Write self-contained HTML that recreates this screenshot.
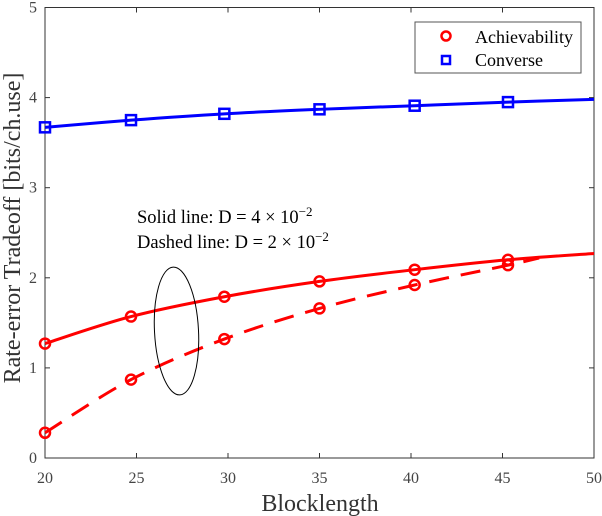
<!DOCTYPE html>
<html><head><meta charset="utf-8"><style>
body{margin:0;background:#fff}
svg{display:block;font-family:"Liberation Serif",serif}
</style></head><body>
<svg id="chart" width="602" height="516" viewBox="0 0 602 516" xmlns="http://www.w3.org/2000/svg">
<g id="axes"></g>
<g id="series"></g>
<ellipse cx="176.5" cy="331" rx="22" ry="64" transform="rotate(-3 176.5 331)" fill="none" stroke="#000" stroke-width="1"/>
<text x="137" y="223" font-size="18.5">Solid line: D = 4 × 10<tspan dy="-7" font-size="13">−2</tspan></text>
<text x="137" y="248" font-size="18.5">Dashed line: D = 2 × 10<tspan dy="-7" font-size="13">−2</tspan></text>
<g>
<rect x="415" y="22" width="166" height="51" fill="#fff" stroke="#555" stroke-width="1"/>
<circle cx="446" cy="36" r="4.5" fill="none" stroke="#f00" stroke-width="2.5"/>
<text x="475" y="43" font-size="18">Achievability</text>
<rect x="442" y="56" width="8" height="8" fill="none" stroke="#00f" stroke-width="2.5"/>
<text x="475" y="66" font-size="18">Converse</text>
</g>
</svg>
<script>
const xs=[20,24.7,29.8,35,40.2,45.3];
const converse=[3.67,3.75,3.82,3.87,3.91,3.95];
const achSolid=[1.27,1.57,1.79,1.96,2.09,2.2];
const achDashed=[0.28,0.87,1.32,1.66,1.92,2.14];
const lineEndX=50, converseEnd=3.98, solidEnd=2.27, dashedEndX=47, dashedEnd=2.22;
const xTicks=[20,25,30,35,40,45,50];
const yTicks=[0,1,2,3,4,5];
const L=45,R=594,T=7.5,B=458;
const X=v=>L+(v-20)/30*(R-L);
const Y=v=>B-v/5*(B-T);
const NS="http://www.w3.org/2000/svg";
function mk(tag,attrs,parent){const e=document.createElementNS(NS,tag);for(const k in attrs)e.setAttribute(k,attrs[k]);parent.appendChild(e);return e;}
const ax=document.getElementById('axes'),sr=document.getElementById('series');
const frame=mk('rect',{x:L,y:T,width:R-L,height:B-T,fill:'none',stroke:'#333','stroke-width':1},ax);


xTicks.forEach(t=>{
 mk('line',{x1:X(t),x2:X(t),y1:B,y2:B-5,stroke:'#333'},ax);
 mk('line',{x1:X(t),x2:X(t),y1:T,y2:T+5,stroke:'#333'},ax);
 const tx=mk('text',{x:X(t),y:B+25,'text-anchor':'middle','font-size':16,fill:'#444'},ax);
 tx.textContent=t;
 
 
});
yTicks.forEach(t=>{
 mk('line',{x1:L,x2:L+5,y1:Y(t),y2:Y(t),stroke:'#333'},ax);
 mk('line',{x1:R,x2:R-5,y1:Y(t),y2:Y(t),stroke:'#333'},ax);
 const tx=mk('text',{x:L-8,y:Y(t)+5,'text-anchor':'end','font-size':16,fill:'#444'},ax);
 tx.textContent=t;
 
 
});
const xt=mk('text',{x:320,y:511,'text-anchor':'middle','font-size':24,fill:'#333'},ax);
xt.textContent='Blocklength';


const yt=mk('text',{x:0,y:0,'text-anchor':'middle','font-size':24,fill:'#333',transform:`translate(20,228) rotate(-90)`},ax);
yt.textContent='Rate-error Tradeoff [bits/ch.use]';


function smooth(pts){let d=`M${pts[0][0]},${pts[0][1]}`;
 for(let i=0;i<pts.length-1;i++){const p0=pts[Math.max(0,i-1)],p1=pts[i],p2=pts[i+1],p3=pts[Math.min(pts.length-1,i+2)];
 d+=` C${p1[0]+(p2[0]-p0[0])/6},${p1[1]+(p2[1]-p0[1])/6} ${p2[0]-(p3[0]-p1[0])/6},${p2[1]-(p3[1]-p1[1])/6} ${p2[0]},${p2[1]}`;}
 return d;}
function series(vals,endX,endV,color,dash,name,marker){
 const pts=xs.map((x,i)=>[X(x),Y(vals[i])]);pts.push([X(endX),Y(endV)]);
 const p=mk('path',{d:smooth(pts),fill:'none',stroke:color,'stroke-width':3,'stroke-dasharray':dash||'none'},sr);
 
 
 xs.forEach((x,i)=>{
  let m;
  if(marker==='circle')m=mk('circle',{cx:X(x),cy:Y(vals[i]),r:5,fill:'none',stroke:color,'stroke-width':2.5},sr);
  else m=mk('rect',{x:X(x)-5,y:Y(vals[i])-5,width:10,height:10,fill:'none',stroke:color,'stroke-width':2.5},sr);
  
  
 });
}
series(converse,lineEndX,converseEnd,'#00f',null,'converse','square');
series(achSolid,lineEndX,solidEnd,'#f00',null,'achievability-solid','circle');
series(achDashed,dashedEndX,dashedEnd,'#f00','20 12','achievability-dashed','circle');
</script>
</body></html>
